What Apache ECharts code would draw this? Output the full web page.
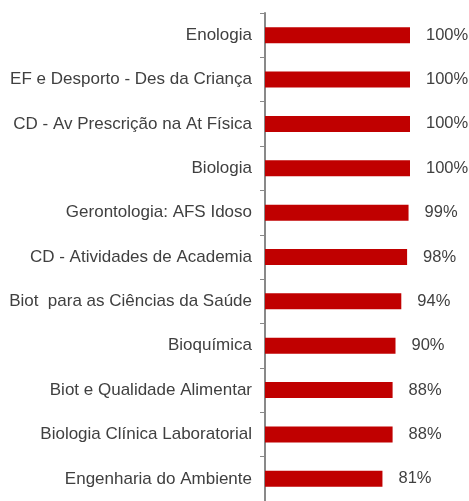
<!DOCTYPE html>
<html>
<head>
<meta charset="utf-8">
<script src="https://cdn.jsdelivr.net/npm/echarts@6/dist/echarts.min.js"></script>
<style>
  html, body { margin: 0; padding: 0; background: #fff; }
  #chart { width: 469px; height: 501px; }
</style>
</head>
<body>
<div id="chart"></div>
<script>
  const categories = [
    'Enologia',
    'EF e Desporto - Des da Criança',
    'CD - Av Prescrição na At Física',
    'Biologia',
    'Gerontologia: AFS Idoso',
    'CD - Atividades de Academia',
    'Biot  para as Ciências da Saúde',
    'Bioquímica',
    'Biot e Qualidade Alimentar',
    'Biologia Clínica Laboratorial',
    'Engenharia do Ambiente'
  ]
  const values = [100, 100, 100, 100, 99, 98, 94, 90, 88, 88, 81]

  const textColor = '#404040'
  const chart = echarts.init(document.getElementById('chart'))
  chart.setOption({
    animation: false,
    grid: {
      left: 265,
      right: 59,
      top: 13,
      bottom: -5
    },
    xAxis: {
      type: 'value',
      min: 0,
      max: 100,
      show: false
    },
    yAxis: {
      type: 'category',
      inverse: true,
      data: categories,
      axisLine: {
        lineStyle: { color: '#898989', width: 2 }
      },
      axisTick: {
        show: true,
        length: 5,
        lineStyle: { color: '#898989', width: 1 }
      },
      axisLabel: {
        color: textColor,
        fontFamily: 'Liberation Sans, Arial, sans-serif',
        fontSize: 17,
        margin: 13,
        padding: [5, 0, 0, 0]
      }
    },
    series: [
      {
        type: 'bar',
        data: values,
        barWidth: 16,
        itemStyle: { color: '#C00000' },
        label: {
          show: true,
          position: 'right',
          distance: 16,
          formatter: '{c}%',
          color: textColor,
          fontFamily: 'Liberation Sans, Arial, sans-serif',
          fontSize: 16.5,
          padding: [5, 0, 0, 0]
        }
      }
    ]
  })
</script>
</body>
</html>
